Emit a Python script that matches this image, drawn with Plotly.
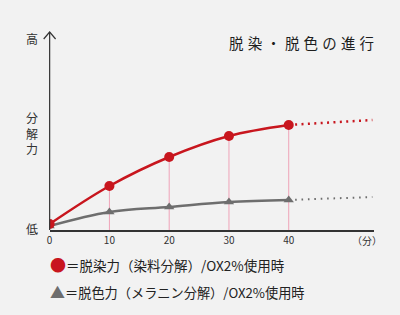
import plotly.graph_objects as go

# Data
minutes = [0, 10, 20, 30, 40]
red_vals = [6, 44, 73, 94, 105]      # 脱染力
gray_vals = [4, 18, 23, 28, 30]      # 脱色力
ext_x = [40, 54]
red_ext = [105, 110]
gray_ext = [30, 33]
tick_labels = ["0", "10", "20", "30", "40"]

RED = "#c8161e"
GRAY = "#6e6e6e"
PINK = "#efa3b8"
BG = "#f2f2f2"
FONT = "Noto Sans CJK JP"

W, H = 400, 315
X0, X1 = 47, 374
Y0, Y1 = 230, 32
XMAX = 54.3
YMAX = 198

fig = go.Figure()

# pink guide lines
gx, gy = [], []
for m, v in zip(minutes[1:], red_vals[1:]):
    gx += [m, m, None]
    gy += [0, v, None]
fig.add_trace(go.Scatter(x=gx, y=gy, mode="lines", line=dict(color=PINK, width=1), hoverinfo="skip"))

# dotted extensions
fig.add_trace(go.Scatter(x=ext_x, y=red_ext, mode="lines", line=dict(color=RED, width=2.5, dash="2px,4.4px")))
fig.add_trace(go.Scatter(x=ext_x, y=gray_ext, mode="lines", line=dict(color=GRAY, width=2, dash="1.6px,4.8px")))

# gray series
fig.add_trace(go.Scatter(x=minutes, y=gray_vals, mode="lines+markers",
                         line=dict(color=GRAY, width=2.5, shape="spline"),
                         marker=dict(symbol="triangle-up", size=9, color=GRAY)))
# red series
fig.add_trace(go.Scatter(x=minutes, y=red_vals, mode="lines+markers",
                         line=dict(color=RED, width=2.5, shape="spline"),
                         marker=dict(symbol="circle", size=10, color=RED)))

def px_x(p):
    return p / W

def px_y(p):
    return 1 - p / H

title = (" \u200a").join(list("脱染・脱色の進行"))

annotations = [
    dict(text=title, x=px_x(301), y=px_y(43), font=dict(size=14.5, color="#1e1e1e")),
    dict(text="高", x=px_x(29), y=px_y(38), font=dict(size=12, color="#333")),
    dict(text="分<br>解<br>力", x=px_x(29), y=px_y(133), font=dict(size=12, color="#333")),
    dict(text="低", x=px_x(29), y=px_y(228), font=dict(size=12, color="#333")),
    dict(text="（分）", x=px_x(367), y=px_y(240), font=dict(size=10, color="#333")),
    dict(text="<span style='color:%s;font-size:16px'>●</span>＝脱染力（染料分解）/OX2%%使用時" % RED,
         x=px_x(45), y=px_y(264), xanchor="left", font=dict(size=13.5, color="#222")),
    dict(text="<span style='color:%s;font-size:15px'>▲</span>＝脱色力（メラニン分解）/OX2%%使用時" % GRAY,
         x=px_x(45), y=px_y(291), xanchor="left", font=dict(size=13.2, color="#222")),
]
for a in annotations:
    a.setdefault("xanchor", "center")
    a.update(xref="paper", yref="paper", yanchor="middle", showarrow=False)

shapes = [
    # y axis line
    dict(type="line", xref="paper", yref="paper", x0=px_x(X0), x1=px_x(X0), y0=px_y(Y0), y1=px_y(Y1),
         line=dict(color="#333", width=1.2)),
    # arrowhead
    dict(type="path", xref="paper", yref="paper",
         path="M %f %f L %f %f L %f %f" % (px_x(X0 - 6), px_y(Y1 + 7), px_x(X0), px_y(Y1), px_x(X0 + 6), px_y(Y1 + 7)),
         line=dict(color="#333", width=1.2)),
]

fig.update_layout(
    width=W, height=H, margin=dict(l=0, r=0, t=0, b=0),
    paper_bgcolor=BG, plot_bgcolor=BG, showlegend=False,
    font=dict(family=FONT),
    annotations=annotations, shapes=shapes,
    xaxis=dict(domain=[X0 / W, X1 / W], range=[0, XMAX], showgrid=False, zeroline=False,
               showline=True, linecolor="#333", linewidth=2,
               tickmode="array", tickvals=minutes, ticktext=tick_labels, ticks="",
               tickfont=dict(size=10, color="#333", family=FONT), fixedrange=True),
    yaxis=dict(domain=[1 - Y0 / H, 1 - Y1 / H], range=[0, YMAX], showgrid=False, zeroline=False,
               showline=False, showticklabels=False, fixedrange=True),
)

fig.write_html("out.html")
